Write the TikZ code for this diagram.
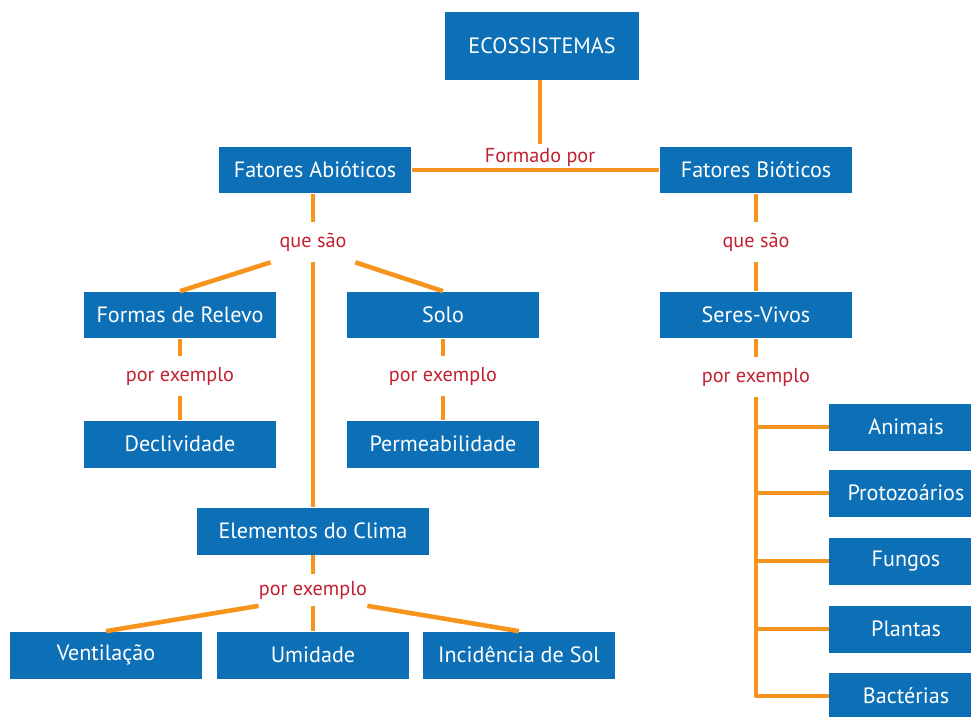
\documentclass[tikz,border=0pt]{standalone}
\usepackage{fontspec}
\setmainfont{PT Sans}
\definecolor{boxblue}{RGB}{13,112,183}
\definecolor{lineorange}{RGB}{247,148,30}
\definecolor{linkred}{RGB}{193,32,48}

\begin{document}
\begin{tikzpicture}[
    x=0.02cm, y=-0.02cm, % work in pixel units of the sketch
    conc/.style={fill=boxblue, text=white, font=\fontsize{12.6}{14}\selectfont,
        minimum width=3.86cm, minimum height=0.94cm, inner sep=0pt}, % blue concept boxes
    side/.style={conc, minimum width=3.08cm},
    link/.style={text=linkred, font=\fontsize{11.5}{13}\selectfont,
        minimum width=1.68cm, minimum height=0.8cm, inner sep=0pt}, % red linking words
    edge/.style={draw=lineorange, line width=2.6pt, line join=round}
]
\useasboundingbox (0,0) rectangle (971,717);

% Top of the map
\node[conc, minimum width=3.88cm, minimum height=1.36cm] (eco) at (542,46) {ECOSSISTEMAS};
\node[conc] (abio) at (315,170) {Fatores Abióticos};
\node[conc] (bio) at (756,170) {Fatores Bióticos};
\node[link, minimum height=0.5cm] (formado) at (540,157) {Formado por};

\draw[edge] (eco.south -| formado) -- (formado.north);
\draw[edge] (abio.east) -- (bio.west);

% Abiotic branch
\node[link] (queA) at (313,242) {que são};
\node[conc] (relevo) at (180,315) {Formas de Relevo};
\node[conc] (solo) at (443,315) {Solo};
\node[link] (exA) at (180,376) {por exemplo};
\node[link] (exB) at (443,376) {por exemplo};
\node[conc] (decl) at (180,444) {Declividade};
\node[conc] (perm) at (443,444) {Permeabilidade};

\draw[edge] (abio.south -| queA) -- (queA.north);
\draw[edge] (queA.south west) -- (relevo.north);
\draw[edge] (queA.south east) -- (solo.north);
\draw[edge] (relevo.south) -- (exA.north);
\draw[edge] (exA.south) -- (decl.north);
\draw[edge] (solo.south) -- (exB.north);
\draw[edge] (exB.south) -- (perm.north);

% Climate elements
\node[conc, minimum width=4.66cm] (clima) at (313,531) {Elementos do Clima};
\node[link, minimum height=0.62cm] (exC) at (313,590) {por exemplo};
\node[conc] (vent) at (106,655) {Ventilação};
\node[conc] (umid) at (313,655) {Umidade};
\node[conc] (incid) at (519,655) {Incidência de Sol};

\draw[edge] (queA.south) -- (clima.north);
\draw[edge] (clima.south) -- (exC.north);
\draw[edge] (exC.south west) -- (vent.north);
\draw[edge] (exC.south) -- (umid.north);
\draw[edge] (exC.south east) -- (incid.north);

% Biotic branch
\node[link] (queB) at (756,242) {que são};
\node[conc] (seres) at (756,315) {Seres-Vivos};
\node[link] (exD) at (756,377) {por exemplo};

\draw[edge] (bio.south) -- (queB.north);
\draw[edge] (queB.south) -- (seres.north);
\draw[edge] (seres.south) -- (exD.north);

\foreach \name/\txt/\ypos in {animais/Animais/427, proto/Protozoários/493,
    fungos/Fungos/561, plantas/Plantas/629, bact/Bactérias/696} {
  \node[side] (\name) at (906,\ypos) {\txt};
  \draw[edge] (exD.south) |- (\name.west);
}

\end{tikzpicture}
\end{document}
